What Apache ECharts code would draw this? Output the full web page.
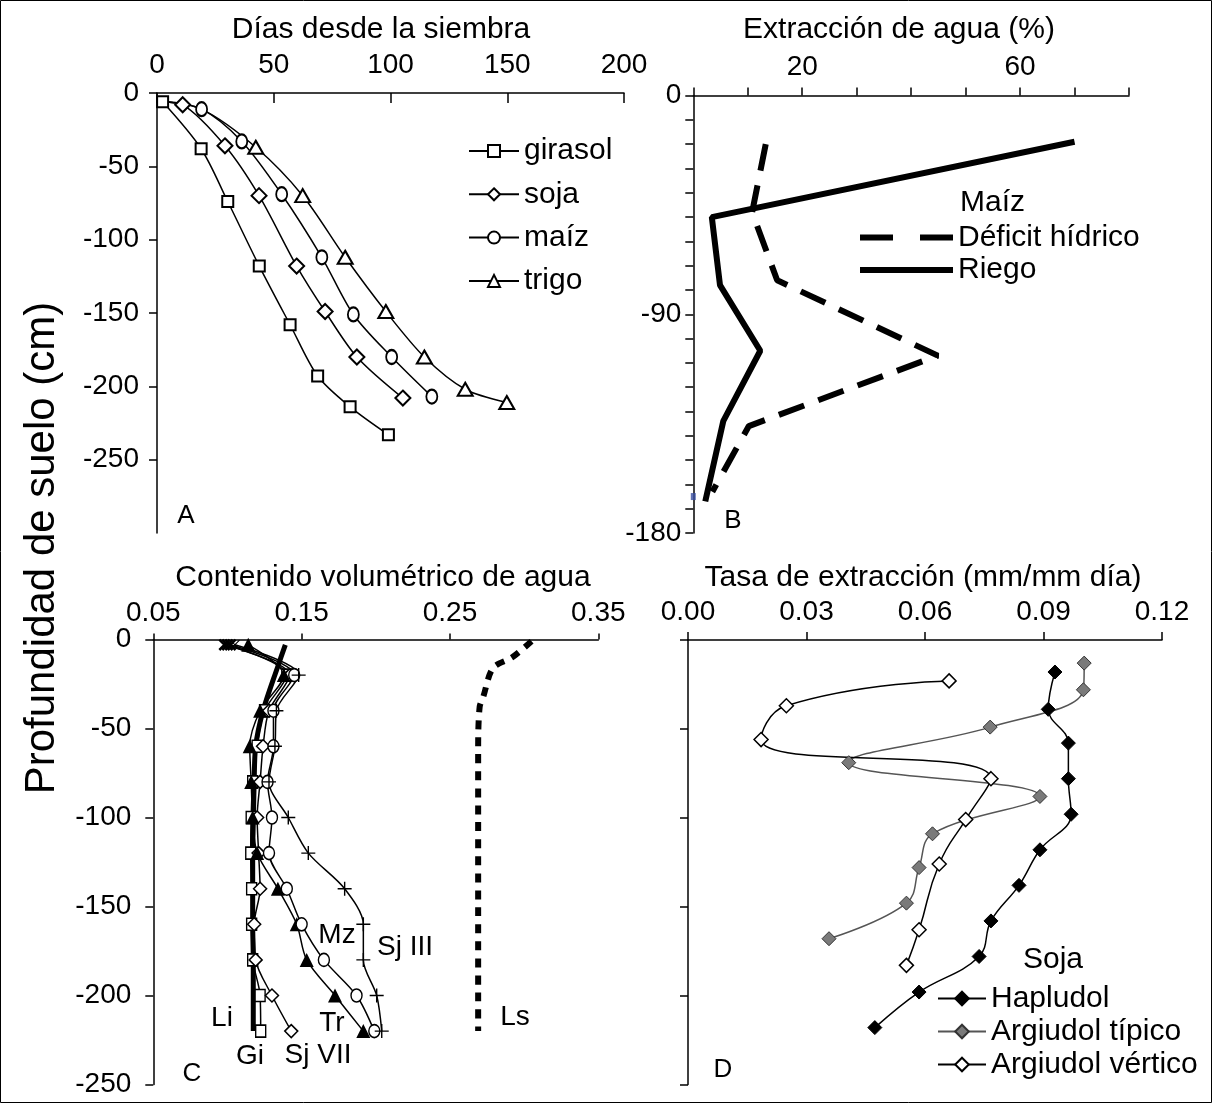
<!DOCTYPE html>
<html><head><meta charset="utf-8">
<script src="https://cdn.jsdelivr.net/npm/echarts@6/dist/echarts.min.js"></script>
<style>html,body{margin:0;padding:0;background:#fff}#c{width:1213px;height:1104px}</style>
</head><body><div id="c"></div>
<script>
// ---------- Panel A: días desde la siembra vs profundidad ----------
const girasolDays = [2.4, 18.9, 30.3, 43.8, 57.0, 68.8, 82.7, 99.1];
const girasolDepth = [-6, -38, -74, -118, -158, -193, -214, -233];
const sojaDays = [2.4, 11.0, 29.1, 43.7, 59.8, 72.0, 85.6, 105.3];
const sojaDepth = [-6, -8, -36, -70, -118, -149, -180, -208];
const maizDays = [2.4, 19.1, 36.3, 53.4, 70.6, 84.1, 100.5, 117.7];
const maizDepth = [-6, -11, -33, -69, -112, -151, -180, -207];
const trigoDays = [2.4, 19.1, 42.3, 62.4, 80.6, 98.0, 114.5, 132.0, 149.8];
const trigoDepth = [-6, -11, -37, -70, -112, -149, -180, -202, -211];
const daysTicks = [0, 50, 100, 150, 200];
const depthTicksA = [0, -50, -100, -150, -200, -250];

// ---------- Panel B: extracción de agua (%) maíz ----------
const riegoPct = [70.0, 3.4, 4.9, 12.3, 5.5, 2.2];
const riegoDepth = [-19, -50, -78, -105, -134, -167];
const deficitPct = [13.3, 10.8, 15.4, 44.9, 10.2, 3.5];
const deficitDepth = [-20, -48, -76, -107, -136, -163];
const markB = [[0, -165]];
const pctLabels = [20, 60];
const depthLabelsB = [0, -90, -180];

// ---------- Panel C: contenido volumétrico de agua ----------
const depthC = [-3, -20, -40, -60, -80, -100, -120, -140, -160, -180, -200, -220];
const giWater = [0.100, 0.140, 0.125, 0.120, 0.117, 0.116, 0.1157, 0.1163, 0.1163, 0.117, 0.122, 0.1224];
const sj7Water = [0.098, 0.142, 0.128, 0.124, 0.122, 0.120, 0.121, 0.122, 0.118, 0.119, 0.130, 0.143];
const trWater = [0.114, 0.138, 0.122, 0.115, 0.116, 0.117, 0.120, 0.134, 0.1467, 0.1534, 0.1725, 0.1916];
const mzWater = [0.102, 0.145, 0.131, 0.131, 0.127, 0.130, 0.128, 0.140, 0.150, 0.165, 0.187, 0.199];
const sj3Water = [0.105, 0.148, 0.133, 0.132, 0.128, 0.141, 0.1545, 0.179, 0.1916, 0.1916, 0.2006, 0.204];
const liDepth = [-3, -15, -40, -60, -80, -100, -120, -140, -160, -180, -200, -220];
const liWater = [0.139, 0.134, 0.124, 0.119, 0.118, 0.1175, 0.117, 0.117, 0.117, 0.1174, 0.1174, 0.1174];
const lsDepth = [-1, -10, -16, -32, -38, -60, -100, -150, -200, -220];
const lsWater = [0.305, 0.292, 0.279, 0.2725, 0.270, 0.269, 0.269, 0.269, 0.269, 0.269];

// ---------- Panel D: tasa de extracción soja ----------
const hapRate = [0.0929, 0.0912, 0.0963, 0.0963, 0.0970, 0.0891, 0.0838, 0.0767, 0.0737, 0.0585, 0.0473];
const hapDepth = [-18, -39, -58, -78, -98, -118, -138, -158, -178, -198, -218];
const tipRate = [0.1003, 0.1001, 0.0765, 0.0407, 0.0891, 0.0619, 0.0585, 0.0553, 0.0357];
const tipDepth = [-13, -28, -49, -69, -88, -109, -128, -148, -168];
const verRate = [0.0661, 0.0249, 0.0185, 0.0767, 0.0703, 0.0636, 0.0585, 0.0553];
const verDepth = [-23, -37, -56, -78, -101, -126, -163, -183];

const FONT = "'Liberation Sans', Arial, sans-serif";
const BLACK = '#000';
const X_PATH = 'path://M0,1.5L1.5,0L10,8.5L18.5,0L20,1.5L11.5,10L20,18.5L18.5,20L10,11.5L1.5,20L0,18.5L8.5,10Z';
const PLUS_PATH = 'path://M9,0h2v9h9v2h-9v9h-2v-9h-9v-2h9z';

function pairs(xs, ys) { return xs.map((x, i) => [x, ys[i]]); }
function hideFirst(arr, n, sym) {
  return arr.map((p, i) => i < n ? (sym ? { value: p, symbol: sym, symbolSize: 10 } : { value: p, symbol: 'none' }) : p);
}

const chart = echarts.init(document.getElementById('c'), null, { renderer: 'canvas' });

const lineAx = { show: true, onZero: false, lineStyle: { color: BLACK, width: 1.5 } };
const lbl = { color: BLACK, fontSize: 28, fontFamily: FONT };

function xAx(grid, min, max, interval, extra) {
  return Object.assign({
    gridIndex: grid, type: 'value', position: 'top', min, max, interval,
    axisLine: lineAx, splitLine: { show: false },
    axisTick: { show: true, length: 8, lineStyle: { color: BLACK, width: 1.5 } },
    axisLabel: Object.assign({ margin: 12 }, lbl)
  }, extra || {});
}
function yAx(grid, min, max, interval, extra) {
  return Object.assign({
    gridIndex: grid, type: 'value', min, max, interval,
    axisLine: lineAx, splitLine: { show: false },
    axisTick: { show: true, length: 8, lineStyle: { color: BLACK, width: 1.5 } },
    axisLabel: Object.assign({ margin: 18 }, lbl)
  }, extra || {});
}
function txt(text, x, y, size, align) {
  return { type: 'text', x, y, style: { text, font: size + 'px ' + FONT, fill: BLACK, textAlign: align || 'center', textVerticalAlign: 'middle' } };
}

const openItem = { color: '#fff', borderColor: BLACK, borderWidth: 2 };
const thinLine = { color: BLACK, width: 1.5 };
const cLine = { color: BLACK, width: 1.5 };
const cOpen = { color: '#fff', borderColor: BLACK, borderWidth: 1.5 };
const legText = { color: BLACK, fontSize: 30, fontFamily: FONT };

const option = {
  animation: false,
  backgroundColor: '#fff',
  grid: [
    { left: 157, top: 93, width: 467, height: 440, outerBoundsMode: 'none' },
    { left: 693.3, top: 95.6, width: 435.7, height: 437.4, outerBoundsMode: 'none' },
    { left: 153.3, top: 639.5, width: 445, height: 445, outerBoundsMode: 'none' },
    { left: 688, top: 640, width: 474, height: 444.5, outerBoundsMode: 'none' }
  ],
  xAxis: [
    xAx(0, 0, 200, 50, {
      axisTick: { show: true, inside: true, length: 10, lineStyle: { color: BLACK, width: 1.5 } },
      axisLabel: Object.assign({ margin: 14, customValues: daysTicks }, lbl)
    }),
    xAx(1, 0, 80, 10, {
      axisLabel: Object.assign({ margin: 14, customValues: pctLabels }, lbl)
    }),
    xAx(2, 0.05, 0.35, 0.1, {
      axisTick: { show: true, length: 6, lineStyle: { color: BLACK, width: 1.5 } },
      axisLabel: Object.assign({ margin: 12, formatter: v => v.toFixed(2) }, lbl)
    }),
    xAx(3, 0, 0.12, 0.03, {
      axisLabel: Object.assign({ margin: 14, formatter: v => v.toFixed(2) }, lbl)
    })
  ],
  yAxis: [
    yAx(0, -300, 0, 50, {
      axisTick: { show: true, length: 8, customValues: depthTicksA, lineStyle: { color: BLACK, width: 1.5 } },
      axisLabel: Object.assign({ margin: 18, customValues: depthTicksA }, lbl)
    }),
    yAx(1, -180, 0, 10, {
      axisLabel: Object.assign({ margin: 12, customValues: depthLabelsB }, lbl)
    }),
    yAx(2, -250, 0, 50, {
      axisLabel: Object.assign({ margin: 22 }, lbl)
    }),
    yAx(3, -250, 0, 50, {
      axisLabel: { show: false }
    })
  ],
  legend: [
    {
      data: ['girasol', 'soja', 'maíz', 'trigo'], orient: 'vertical', left: 463, top: 130,
      itemWidth: 50, itemHeight: 15, itemGap: 11.3, selectedMode: false,
      textStyle: Object.assign({ lineHeight: 32 }, legText)
    },
    {
      data: [
        { name: 'Déficit hídrico', lineStyle: { type: [33, 27], width: 6, color: BLACK } },
        { name: 'Riego', lineStyle: { width: 6, color: BLACK } }
      ],
      orient: 'vertical', left: 852, top: 216.5,
      itemWidth: 93, itemHeight: 12, itemGap: 0.5, selectedMode: false,
      itemStyle: { color: 'rgba(0,0,0,0)', borderWidth: 0, opacity: 0 },
      lineStyle: { width: 6 },
      textStyle: Object.assign({ lineHeight: 32 }, legText)
    },
    {
      data: ['Hapludol', 'Argiudol típico', 'Argiudol vértico'], orient: 'vertical', left: 932, top: 978.5,
      itemWidth: 48, itemHeight: 17, itemGap: 3, selectedMode: false,
      textStyle: Object.assign({ lineHeight: 30 }, legText)
    }
  ],
  graphic: [
    { type: 'rect', shape: { x: 0.5, y: 0.5, width: 1211, height: 1102 }, style: { fill: 'none', stroke: BLACK, lineWidth: 1 }, z: 100 },
    txt('Días desde la siembra', 381, 30, 30),
    txt('Extracción de agua (%)', 899, 30, 30),
    txt('Contenido volumétrico de agua', 383, 578, 30),
    txt('Tasa de extracción (mm/mm día)', 923, 578, 30),
    { type: 'text', x: 42, y: 548, rotation: Math.PI / 2, style: { text: 'Profundidad de suelo (cm)', font: '42px ' + FONT, fill: BLACK, textAlign: 'center', textVerticalAlign: 'middle' } },
    txt('A', 186, 516, 26),
    txt('B', 733, 521, 26),
    txt('C', 192, 1074, 26),
    txt('D', 723, 1070, 26),
    txt('Maíz', 960, 203, 30, 'left'),
    txt('Soja', 1023, 960, 30, 'left'),
    txt('Mz', 337, 935, 28),
    txt('Sj III', 405, 947, 28),
    txt('Li', 222, 1018, 28),
    txt('Tr', 332, 1023, 28),
    txt('Gi', 250, 1056, 28),
    txt('Sj VII', 318, 1055, 28),
    txt('Ls', 515, 1017, 28)
  ],
  series: [
    // Panel A
    { name: 'girasol', type: 'line', xAxisIndex: 0, yAxisIndex: 0, smooth: 0.3, data: pairs(girasolDays, girasolDepth),
      symbol: 'rect', symbolSize: 11, lineStyle: thinLine, itemStyle: openItem },
    { name: 'soja', type: 'line', xAxisIndex: 0, yAxisIndex: 0, smooth: 0.3, data: hideFirst(pairs(sojaDays, sojaDepth), 1),
      symbol: 'diamond', symbolSize: 15, lineStyle: thinLine, itemStyle: openItem },
    { name: 'maíz', type: 'line', xAxisIndex: 0, yAxisIndex: 0, smooth: 0.3, data: hideFirst(pairs(maizDays, maizDepth), 1),
      symbol: 'circle', symbolSize: [11, 14], lineStyle: thinLine, itemStyle: openItem },
    { name: 'trigo', type: 'line', xAxisIndex: 0, yAxisIndex: 0, smooth: 0.3, data: hideFirst(pairs(trigoDays, trigoDepth), 2),
      symbol: 'triangle', symbolSize: [15, 13], lineStyle: thinLine, itemStyle: openItem },
    // Panel B
    { name: 'Déficit hídrico', type: 'line', xAxisIndex: 1, yAxisIndex: 1, data: pairs(deficitPct, deficitDepth),
      symbol: 'none', lineStyle: { color: BLACK, width: 6, type: [27, 15] }, itemStyle: { color: BLACK } },
    { name: 'Riego', type: 'line', xAxisIndex: 1, yAxisIndex: 1, data: pairs(riegoPct, riegoDepth),
      symbol: 'none', lineStyle: { color: BLACK, width: 6 }, itemStyle: { color: BLACK } },
    { name: 'marca', type: 'scatter', xAxisIndex: 1, yAxisIndex: 1, data: markB, clip: false,
      symbol: 'rect', symbolSize: [5, 7], itemStyle: { color: '#3a4fa0' } },
    // Panel C
    { name: 'Ls', type: 'line', xAxisIndex: 2, yAxisIndex: 2, data: pairs(lsWater, lsDepth), symbol: 'none', smooth: 0.3,
      lineStyle: { color: BLACK, width: 6, type: [9, 8] } },
    { name: 'Gi', type: 'line', xAxisIndex: 2, yAxisIndex: 2, smooth: 0.3, data: hideFirst(pairs(giWater, depthC), 1, X_PATH),
      symbol: 'rect', symbolSize: [10, 12], lineStyle: cLine, itemStyle: cOpen },
    { name: 'Sj VII', type: 'line', xAxisIndex: 2, yAxisIndex: 2, smooth: 0.3, data: hideFirst(pairs(sj7Water, depthC), 1, X_PATH),
      symbol: 'diamond', symbolSize: 13, lineStyle: cLine, itemStyle: cOpen },
    { name: 'Tr', type: 'line', xAxisIndex: 2, yAxisIndex: 2, smooth: 0.3, data: pairs(trWater, depthC),
      symbol: 'triangle', symbolSize: [14, 14], lineStyle: cLine, itemStyle: { color: BLACK } },
    { name: 'Mz', type: 'line', xAxisIndex: 2, yAxisIndex: 2, smooth: 0.3, data: hideFirst(pairs(mzWater, depthC), 1, X_PATH),
      symbol: 'circle', symbolSize: [11, 13], lineStyle: cLine, itemStyle: cOpen },
    { name: 'Sj III', type: 'line', xAxisIndex: 2, yAxisIndex: 2, smooth: 0.3, data: hideFirst(pairs(sj3Water, depthC), 1, X_PATH),
      symbol: PLUS_PATH, symbolSize: 14, lineStyle: cLine, itemStyle: { color: BLACK } },
    { name: 'Li', type: 'line', xAxisIndex: 2, yAxisIndex: 2, smooth: 0.3, data: pairs(liWater, liDepth),
      symbol: 'none', lineStyle: { color: BLACK, width: 5 } },
    // Panel D
    { name: 'Hapludol', type: 'line', xAxisIndex: 3, yAxisIndex: 3, smooth: 0.4, data: pairs(hapRate, hapDepth),
      symbol: 'diamond', symbolSize: 14, lineStyle: { color: BLACK, width: 1.5 }, itemStyle: { color: BLACK, borderColor: BLACK, borderWidth: 1 } },
    { name: 'Argiudol típico', type: 'line', xAxisIndex: 3, yAxisIndex: 3, smooth: 0.4, data: pairs(tipRate, tipDepth),
      symbol: 'diamond', symbolSize: 14, lineStyle: { color: '#555', width: 1.5 }, itemStyle: { color: '#7a7a7a', borderColor: '#333', borderWidth: 1 } },
    { name: 'Argiudol vértico', type: 'line', xAxisIndex: 3, yAxisIndex: 3, smooth: 0.5, data: pairs(verRate, verDepth),
      symbol: 'diamond', symbolSize: 14, lineStyle: { color: BLACK, width: 1.5 }, itemStyle: { color: '#fff', borderColor: BLACK, borderWidth: 1.5 } }
  ]
};
chart.setOption(option);
</script></body></html>
